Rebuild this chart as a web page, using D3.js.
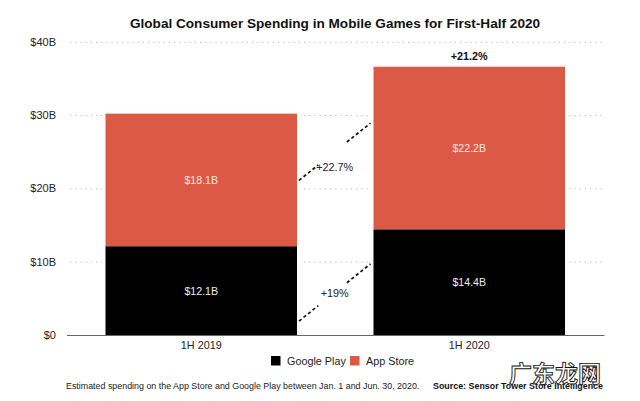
<!DOCTYPE html>
<html><head><meta charset="utf-8">
<script src="https://cdn.jsdelivr.net/npm/d3@7"></script>
<style>
html,body{margin:0;padding:0;background:#fff}
svg{display:block}
text{font-family:"Liberation Sans",Arial,sans-serif}
</style></head><body>
<div id="chart"></div>
<script>
const categories = ["1H 2019", "1H 2020"];
const googlePlay = [12.1, 14.4];
const appStore = [18.1, 22.2];
const googleLabels = ["$12.1B", "$14.4B"];
const appLabels = ["$18.1B", "$22.2B"];
const yTicks = [0, 10, 20, 30, 40];
const seriesNames = ["Google Play", "App Store"];
const lowerConnector = [1.9, 9.7];
const upperConnector = [21.1, 28.9];
const title = "Global Consumer Spending in Mobile Games for First-Half 2020";
const note = "Estimated spending on the App Store and Google Play between Jan. 1 and Jun. 30, 2020.";
const source = "Source: Sensor Tower Store Intelligence";
const watermark = "广东龙网";
const BLACK = "#000", RED = "#dc5a45", INK = "#222";

const W = 640, H = 401;
const svg = d3.select("#chart").append("svg").attr("width", W).attr("height", H).attr("viewBox", [0,0,W,H]);
const x = d3.scaleBand().domain(categories).range([66.5, 604]).paddingInner(0.2854).paddingOuter(0.1455);
const y = d3.scaleLinear().domain([0, 40]).range([335, 41.8]);

svg.append("text").attr("x", 335).attr("y", 28).attr("text-anchor", "middle")
  .attr("font-size", 13.6).attr("font-weight", 700).attr("fill", "#111").text(title);

// y axis with dotted gridlines
const yAxis = svg.append("g").attr("transform", "translate(70,0)")
  .call(d3.axisLeft(y).tickValues(yTicks).tickSize(0).tickPadding(14)
    .tickFormat(d => d === 0 ? "$0" : `$${d}B`));
yAxis.select(".domain").remove();
yAxis.selectAll("text").attr("font-size", 11).attr("fill", INK)
  .style("font-family", '"Liberation Sans",Arial,sans-serif');
yAxis.selectAll(".tick").filter(d => d > 0).append("line")
  .attr("x1", 0).attr("x2", 532)
  .attr("stroke", "#bdbdbd").attr("stroke-width", 1).attr("stroke-dasharray", "1.3 3.9");

// stacked bars
const stacked = categories.map((c, i) => ({c, i, g: googlePlay[i], a: appStore[i]}));
const bars = svg.append("g").selectAll("g").data(stacked).join("g");
bars.append("rect").attr("x", d => x(d.c) - 3).attr("width", x.bandwidth() + 6)
  .attr("y", d => y(d.g + d.a)).attr("height", d => y(0) - y(d.g + d.a)).attr("fill", "#fff");
bars.append("rect").attr("x", d => x(d.c)).attr("width", x.bandwidth())
  .attr("y", d => y(d.g + d.a)).attr("height", d => y(d.g) - y(d.g + d.a)).attr("fill", RED);
bars.append("rect").attr("x", d => x(d.c)).attr("width", x.bandwidth())
  .attr("y", d => y(d.g)).attr("height", d => y(0) - y(d.g)).attr("fill", BLACK);
bars.append("text").attr("x", d => x(d.c) + x.bandwidth()/2).attr("text-anchor", "middle")
  .attr("y", d => y(d.g + d.a/2) + 4).attr("font-size", 10.6).attr("fill", "#fbe6e0")
  .text(d => appLabels[d.i]);
bars.append("text").attr("x", d => x(d.c) + x.bandwidth()/2).attr("text-anchor", "middle")
  .attr("y", d => y(d.g/2) + 4).attr("font-size", 10.6).attr("fill", "#eee")
  .text(d => googleLabels[d.i]);

// baseline + category axis
const xAxis = svg.append("g").attr("transform", `translate(0,${y(0)})`)
  .call(d3.axisBottom(x).tickSize(0).tickPadding(6));
xAxis.select(".domain").attr("stroke", "#666").attr("stroke-width", 1);
xAxis.selectAll("text").attr("font-size", 10.8).attr("fill", INK)
  .style("font-family", '"Liberation Sans",Arial,sans-serif');

// dashed growth connectors, broken around the labels
const x0 = x(categories[0]) + x.bandwidth() + 2, x1 = x(categories[1]) - 3;
[lowerConnector, upperConnector].forEach(c => {
  const sx = d3.scaleLinear().domain([0, 1]).range([x0, x1]);
  const sv = d3.scaleLinear().domain([0, 1]).range(c);
  [[0, 0.27], [0.67, 1]].forEach(([a, b]) => {
    svg.append("line").attr("x1", sx(a)).attr("x2", sx(b))
      .attr("y1", y(sv(a))).attr("y2", y(sv(b)))
      .attr("stroke", "#111").attr("stroke-width", 1.7).attr("stroke-dasharray", "3.2 2.6");
  });
});
const mid = (x0 + x1) / 2;
svg.append("text").attr("x", mid).attr("y", y(21.8)+0).attr("text-anchor", "middle").attr("dy", "0")
  .attr("font-size", 10.8).attr("fill", INK).attr("transform", "translate(0,-4)").text("+22.7%");
svg.append("text").attr("x", mid).attr("y", 297).attr("text-anchor", "middle")
  .attr("font-size", 10.8).attr("fill", INK).text("+19%");
svg.append("text").attr("x", x(categories[1]) + x.bandwidth()/2).attr("y", y(googlePlay[1] + appStore[1]) - 7)
  .attr("text-anchor", "middle").attr("font-size", 10.8).attr("font-weight", 700).attr("fill", "#111").text("+21.2%");

// legend
const legendX = [271, 350], legendColors = [BLACK, RED];
seriesNames.forEach((n, i) => {
  svg.append("rect").attr("x", legendX[i]).attr("y", 356).attr("width", 9.5).attr("height", 9.5).attr("fill", legendColors[i]);
  svg.append("text").attr("x", legendX[i] + 16).attr("y", 365).attr("font-size", 10.8).attr("fill", INK).text(n);
});

// footer
svg.append("text").attr("x", 66).attr("y", 389).attr("font-size", 8.9).attr("fill", INK).text(note);
svg.append("text").attr("x", 603).attr("y", 389).attr("text-anchor", "end")
  .attr("font-size", 8.9).attr("font-weight", 700).attr("fill", "#111").text(source);

// watermark
svg.append("text").attr("x", 601).attr("y", 382).attr("text-anchor", "end")
  .style("font-family", '"Noto Sans CJK SC"').attr("font-size", 23).attr("font-weight", 700)
  .attr("fill", "#fff").attr("stroke", "#111").attr("stroke-width", 0.9).text(watermark);
</script>
</body></html>
